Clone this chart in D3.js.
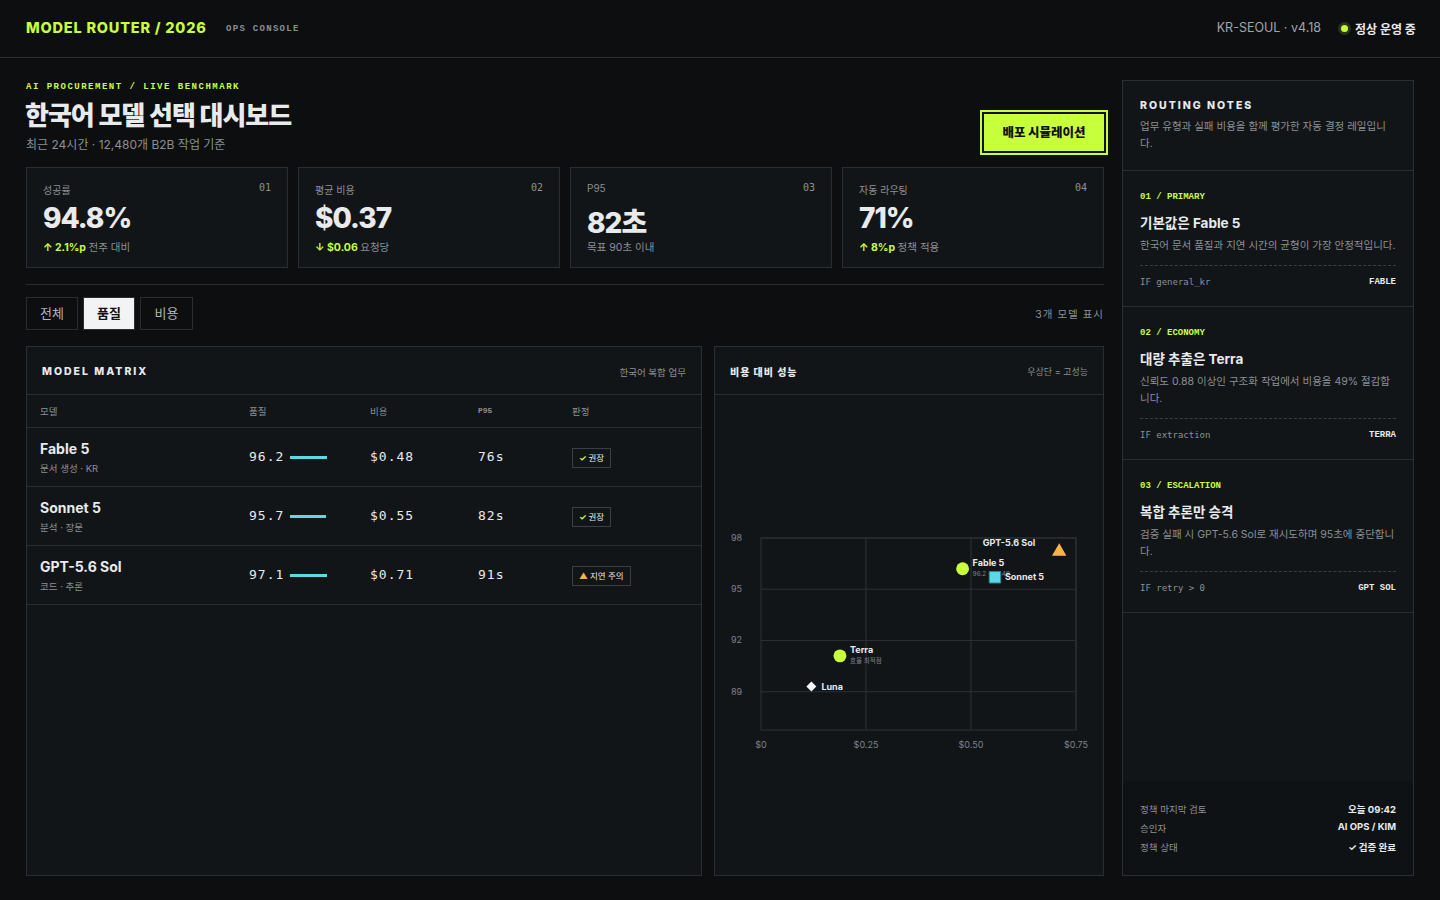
<!DOCTYPE html>
<html lang="ko">
<head>
<meta charset="utf-8">
<script src="https://cdn.jsdelivr.net/npm/d3@7"></script>
<style>
  body { margin:0; background:#0c0e10; width:1440px; height:900px; overflow:hidden;
         font-family:"Inter","Noto Sans CJK KR",sans-serif; color:#e8eaec; }
  .abs { position:absolute; }
  .mono { font-family:"DejaVu Sans Mono","Liberation Mono",monospace; }
  .serifmono { font-family:"Liberation Mono","DejaVu Sans Mono",monospace; font-weight:700; }
  .panel { position:absolute; background:#121518; border:1px solid #2a2e33; box-sizing:border-box; }
  .lime { color:#c8ff3c; }
  .gray { color:#8b9096; }
</style>
</head>
<body>
<div id="root"></div>
<script>
// ---- data ----
var kpiLabels = ["성공률", "평균 비용", "P95", "자동 라우팅"];
var kpiValues = ["94.8%", "$0.37", "82초", "71%"];
var kpiDelta  = ["↑ 2.1%p", "↓ $0.06", "", "↑ 8%p"];
var kpiNotes  = ["전주 대비", "요청당", "목표 90초 이내", "정책 적용"];

var tableModels  = ["Fable 5", "Sonnet 5", "GPT-5.6 Sol"];
var tableTasks   = ["문서 생성 · KR", "분석 · 장문", "코드 · 추론"];
var tableQuality = [96.2, 95.7, 97.1];
var tableCost    = [0.48, 0.55, 0.71];
var tableP95     = [76, 82, 91];
var tableVerdict = ["권장", "권장", "지연 주의"];

var scatterNames   = ["GPT-5.6 Sol", "Fable 5", "Sonnet 5", "Terra", "Luna"];
var scatterCost    = [0.71, 0.48, 0.557, 0.188, 0.12];
var scatterQuality = [97.2, 96.2, 95.7, 91.1, 89.3];
var scatterSub     = ["", "96.2 · $0.48", "", "효율 최적점", ""];
var yTicks = [89, 92, 95, 98];
var xTicks = [0, 0.25, 0.5, 0.75];

var notesTag   = ["01 / PRIMARY", "02 / ECONOMY", "03 / ESCALATION"];
var notesTitle = ["기본값은 Fable 5", "대량 추출은 Terra", "복합 추론만 승격"];
var notesBody  = ["한국어 문서 품질과 지연 시간의 균형이 가장 안정적입니다.",
                  "신뢰도 0.88 이상인 구조화 작업에서 비용을 49% 절감합니다.",
                  "검증 실패 시 GPT-5.6 Sol로 재시도하며 95초에 중단합니다."];
var notesRule  = ["IF general_kr", "IF extraction", "IF retry > 0"];
var notesTarget= ["FABLE", "TERRA", "GPT SOL"];
var footKeys = ["정책 마지막 검토", "승인자", "정책 상태"];
var footVals = ["오늘 09:42", "AI OPS / KIM", "✓ 검증 완료"];

var root = d3.select("#root");
function el(tag, cls, style, text) {
  var s = root.append(tag).attr("class", cls || "abs").attr("style", style);
  if (text !== undefined) s.text(text);
  return s;
}

// header
el("div", "abs", "left:0;top:57px;width:1440px;height:1px;background:#2a2e33");
el("div", "abs lime", "left:26px;top:19px;font-size:14.5px;font-weight:800;letter-spacing:0.8px", "MODEL ROUTER / 2026");
el("div", "abs serifmono gray", "left:226px;top:24px;font-size:9px;letter-spacing:1.3px", "OPS CONSOLE");
el("div", "abs", "right:119px;top:20px;font-size:12.5px;color:#a0a5aa", "KR-SEOUL · v4.18");
el("div", "abs", "left:1341px;top:25px;width:7px;height:7px;border-radius:50%;background:#c8ff3c;box-shadow:0 0 0 3px #2a3314");
el("div", "abs", "left:1355px;top:20px;font-size:12px;font-weight:700", "정상 운영 중");

// title
el("div", "abs serifmono lime", "left:26px;top:82px;font-size:9px;letter-spacing:1.5px", "AI PROCUREMENT / LIVE BENCHMARK");
el("div", "abs", "left:25px;top:95px;font-size:26px;font-weight:800;letter-spacing:-1px", "한국어 모델 선택 대시보드");
el("div", "abs gray", "left:26px;top:135px;font-size:12px", "최근 24시간 · 12,480개 B2B 작업 기준");
el("div", "abs", "left:980px;top:110px;width:128px;height:45px;box-sizing:border-box;background:#c8ff3c;border:2px solid #c8ff3c;box-shadow:inset 0 0 0 2px #111;color:#111;font-size:12.5px;font-weight:800;text-align:center;line-height:41px", "배포 시뮬레이션");

// kpi cards
kpiLabels.forEach(function (lab, i) {
  var x = 26 + i * 272;
  var c = el("div", "panel", "left:" + x + "px;top:167px;width:262px;height:101px");
  c.append("div").attr("class", "abs gray").attr("style", "left:16px;top:14px;font-size:10px").text(lab);
  c.append("div").attr("class", "abs mono gray").attr("style", "right:16px;top:14px;font-size:10px").text("0" + (i + 1));
  c.append("div").attr("class", "abs").attr("style", "left:16px;top:33px;font-size:28px;font-weight:800;letter-spacing:-1px").text(kpiValues[i]);
  var n = c.append("div").attr("class", "abs gray").attr("style", "left:16px;top:71px;font-size:10.5px");
  if (kpiDelta[i]) n.append("span").attr("class", "lime").style("font-weight", 700).text(kpiDelta[i] + " ");
  n.append("span").text(kpiNotes[i]);
});
el("div", "abs", "left:26px;top:284px;width:1078px;height:1px;background:#2a2e33");

// tabs
["전체", "품질", "비용"].forEach(function (t, i) {
  var act = i === 1;
  el("div", "abs", "left:" + [26, 83, 140][i] + "px;top:297px;width:" + (i == 2 ? 53 : 52) + "px;height:33px;box-sizing:border-box;border:1px solid #2a2e33;text-align:center;line-height:31px;font-size:13px;" +
     (act ? "background:#f2f3f4;color:#111;font-weight:700" : "color:#b0b4b8"), t);
});
el("div", "abs gray", "right:336px;top:306px;font-size:10.5px;letter-spacing:1px", "3개 모델 표시");

// matrix panel
el("div", "panel", "left:26px;top:346px;width:676px;height:530px");
el("div", "abs", "left:42px;top:365px;font-size:10.5px;font-weight:800;letter-spacing:2px", "MODEL MATRIX");
el("div", "abs gray", "right:754px;top:365px;font-size:9.5px", "한국어 복합 업무");
var colX = [40, 249, 370, 478, 572];
var hdrs = ["모델", "품질", "비용", "P95", "판정"];
el("div", "abs", "left:27px;top:394px;width:674px;height:1px;background:#2a2e33");
hdrs.forEach(function (h, i) {
  el("div", i === 3 ? "abs serifmono gray" : "abs gray", "left:" + colX[i] + "px;top:" + (i === 3 ? 406 : 404) + "px;font-size:" + (i === 3 ? 8 : 9.5) + "px", h);
});
var qBar = d3.scaleLinear().domain([0, 100]).range([0, 38]);
var rowY = d3.scaleBand().domain(tableModels).range([427, 604]);
tableModels.forEach(function (m, i) {
  var y = rowY(m);
  el("div", "abs", "left:27px;top:" + y + "px;width:674px;height:1px;background:#2a2e33");
  el("div", "abs", "left:40px;top:" + (y + 13) + "px;font-size:14px;font-weight:700", m);
  el("div", "abs gray", "left:40px;top:" + (y + 34) + "px;font-size:9.5px", tableTasks[i]);
  var mid = y + rowY.bandwidth() / 2;
  el("div", "abs mono", "left:249px;top:" + (mid - 8) + "px;font-size:13px;letter-spacing:1px", tableQuality[i].toFixed(1));
  el("div", "abs", "left:290px;top:" + (mid - 1) + "px;width:" + qBar(tableQuality[i]) + "px;height:3px;background:#5dd8e8");
  el("div", "abs mono", "left:370px;top:" + (mid - 8) + "px;font-size:13px;letter-spacing:1px", "$" + tableCost[i].toFixed(2));
  el("div", "abs mono", "left:478px;top:" + (mid - 8) + "px;font-size:13px;letter-spacing:1px", tableP95[i] + "s");
  var warn = tableVerdict[i] !== "권장";
  var b = el("div", "abs", "left:572px;top:" + (mid - 9) + "px;height:20px;box-sizing:border-box;padding:0 6px;border:1px solid #3a3f45;font-size:8.5px;line-height:18px;color:#e8eaec");
  b.append("span").style("color", warn ? "#ffb347" : "#c8ff3c").style("font-weight", 700).text(warn ? "▲ " : "✓ ");
  b.append("span").text(tableVerdict[i]);
});
el("div", "abs", "left:27px;top:604px;width:674px;height:1px;background:#2a2e33");

// scatter panel
el("div", "panel", "left:714px;top:346px;width:390px;height:530px");
el("div", "abs", "left:714px;top:394px;width:390px;height:1px;background:#2a2e33");
el("div", "abs", "left:730px;top:364px;font-size:10px;font-weight:800;letter-spacing:1px", "비용 대비 성능");
el("div", "abs gray", "right:352px;top:365px;font-size:9px", "우상단 = 고성능");

var svg = root.append("svg").attr("class", "abs").attr("style", "left:714px;top:346px")
  .attr("width", 390).attr("height", 530);
var x = d3.scaleLinear().domain([0, 0.75]).range([47, 362]);
var y = d3.scaleLinear().domain([86.76, 98]).range([384, 192]);
var g = svg.append("g");
g.append("rect").attr("x", 47).attr("y", 192).attr("width", 315).attr("height", 192)
  .attr("fill", "none").attr("stroke", "#2c3035");
g.selectAll(".gy").data(yTicks).enter().append("line")
  .attr("x1", 47).attr("x2", 362).attr("y1", function (d) { return y(d); }).attr("y2", function (d) { return y(d); })
  .attr("stroke", "#2c3035");
g.selectAll(".gx").data(xTicks.slice(1)).enter().append("line")
  .attr("y1", 192).attr("y2", 384).attr("x1", function (d) { return x(d); }).attr("x2", function (d) { return x(d); })
  .attr("stroke", "#2c3035");
g.selectAll(".yl").data(yTicks).enter().append("text")
  .attr("x", 17).attr("y", function (d) { return y(d) + 3; })
  .attr("fill", "#7d8288").attr("font-size", 9).text(function (d) { return d; });
g.selectAll(".xl").data(xTicks).enter().append("text")
  .attr("x", function (d) { return x(d); }).attr("y", 402).attr("text-anchor", "middle")
  .attr("fill", "#7d8288").attr("font-size", 9).text(function (d) { return "$" + (d === 0 ? "0" : d.toFixed(2)); });

var pts = g.selectAll(".pt").data(scatterNames).enter().append("g")
  .attr("transform", function (d, i) { return "translate(" + x(scatterCost[i]) + "," + y(scatterQuality[i]) + ")"; });
pts.each(function (d, i) {
  var p = d3.select(this);
  if (d === "GPT-5.6 Sol") {
    p.append("path").attr("d", d3.symbol(d3.symbolTriangle, 90)()).attr("fill", "#ffb347");
    p.append("text").attr("x", -24).attr("y", -6).attr("text-anchor", "end").attr("fill", "#e8eaec")
      .attr("font-size", 9).attr("font-weight", 700).text(d);
  } else {
    var shape = d === "Sonnet 5" || d === "Luna" ? d3.symbolSquare : d3.symbolCircle;
    var col = d === "Sonnet 5" ? "#5dd8e8" : d === "Luna" ? "#f2f3f4" : "#c8ff3c";
    p.append("path").attr("d", d3.symbol(shape, d === "Luna" ? 50 : 130)()).attr("fill", col)
      .attr("transform", d === "Luna" ? "rotate(45)" : null)
      .attr("stroke", d === "Sonnet 5" ? "#2b8a96" : "none");
    p.append("text").attr("x", 10).attr("y", scatterSub[i] ? -3 : 3).attr("fill", "#e8eaec")
      .attr("font-size", 9).attr("font-weight", 700).text(d);
    if (scatterSub[i]) p.append("text").attr("x", 10).attr("y", 7).attr("fill", "#7d8288")
      .attr("font-size", 6.5).text(scatterSub[i]);
  }
});

// routing notes
el("div", "panel", "left:1122px;top:80px;width:292px;height:796px");
el("div", "abs", "left:1123px;top:781px;width:290px;height:94px;background:#0f1214");
el("div", "abs", "left:1140px;top:99px;font-size:10.5px;font-weight:800;letter-spacing:2px", "ROUTING NOTES");
el("div", "abs gray", "left:1140px;top:118px;width:250px;font-size:10.5px;line-height:17px", "업무 유형과 실패 비용을 함께 평가한 자동 결정 레일입니다.");
var secTop = [170, 306, 459, 612];
secTop.forEach(function (t) { el("div", "abs", "left:1123px;top:" + t + "px;width:290px;height:1px;background:#2a2e33"); });
notesTag.forEach(function (tag, i) {
  var t = secTop[i];
  el("div", "abs serifmono lime", "left:1140px;top:" + (t + 22) + "px;font-size:9px", tag);
  el("div", "abs", "left:1140px;top:" + (t + 42) + "px;font-size:13.5px;font-weight:700", notesTitle[i]);
  el("div", "abs gray", "left:1140px;top:" + (t + 67) + "px;width:258px;font-size:10.5px;line-height:17px", notesBody[i]);
  var ly = i === 0 ? t + 95 : t + 112;
  el("div", "abs", "left:1140px;top:" + ly + "px;width:256px;border-top:1px dashed #3a3f45");
  el("div", "abs mono gray", "left:1140px;top:" + (ly + 12) + "px;font-size:9px", notesRule[i]);
  el("div", "abs serifmono", "right:44px;top:" + (ly + 12) + "px;font-size:9px", notesTarget[i]);
});
footKeys.forEach(function (k, i) {
  el("div", "abs gray", "left:1140px;top:" + (802 + i * 19) + "px;font-size:9.5px", k);
  el("div", "abs", "right:44px;top:" + (802 + i * 19) + "px;font-size:9.5px;font-weight:700", footVals[i]);
});
</script>
</body>
</html>
